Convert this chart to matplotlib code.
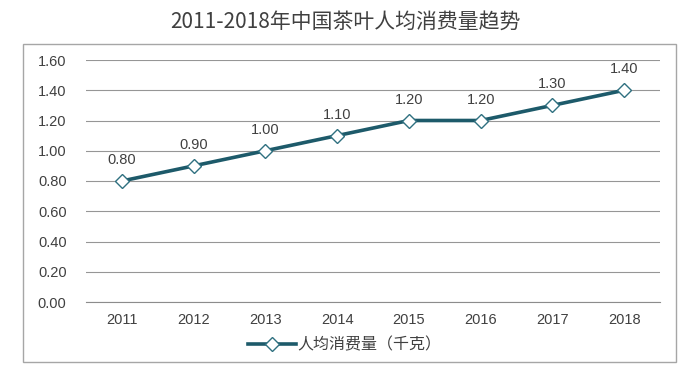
import matplotlib
matplotlib.use("Agg")
import matplotlib.pyplot as plt
from matplotlib.patches import Rectangle

plt.rcParams['font.family'] = ['Noto Sans CJK SC', 'DejaVu Sans']

years = ['2011', '2012', '2013', '2014', '2015', '2016', '2017', '2018']
values = [0.80, 0.90, 1.00, 1.10, 1.20, 1.20, 1.30, 1.40]
yticks = [0.0, 0.2, 0.4, 0.6, 0.8, 1.0, 1.2, 1.4, 1.6]
title = '2011-2018年中国茶叶人均消费量趋势'
series_name = '人均消费量（千克）'

W, H = 689, 371
fig = plt.figure(figsize=(W/100, H/100), dpi=100)
num_font = ['Liberation Sans', 'DejaVu Sans']

# outer border
fig.patches.append(Rectangle((23/W, 1-362/H), (676-23)/W, (362-44)/H,
                             transform=fig.transFigure, fill=False,
                             edgecolor='#a6a6a6', linewidth=1.0))

ax = fig.add_axes([86/W, 1-302/H, (660-86)/W, (302-60)/H])
x = list(range(len(years)))
line_color = '#1d5a6a'
ax.plot(x, values, color=line_color, linewidth=2.6, marker='D', markersize=7,
        markerfacecolor='white', markeredgecolor='#2f7080', markeredgewidth=1.0,
        label=series_name, zorder=3)
for xi, v in zip(x, values):
    ax.annotate(f'{v:.2f}', (xi, v), xytext=(0, 10), textcoords='offset points',
                ha='center', va='bottom', fontsize=10.5, color='#404040',
                family=num_font)

ax.set_xlim(-0.5, len(years) - 0.5)
ax.set_ylim(0, 1.6)
ax.set_yticks(yticks)
ax.set_yticklabels([f'{t:.2f}' for t in yticks], family=num_font)
ax.set_xticks(x)
ax.set_xticklabels(years, family=num_font)
ax.tick_params(axis='both', length=0, labelsize=10.5, labelcolor='#404040')
ax.tick_params(axis='y', pad=14)
ax.tick_params(axis='x', pad=8)
ax.grid(axis='y', color='#969696', linewidth=0.8)
ax.set_axisbelow(True)
for s in ['top', 'right', 'left']:
    ax.spines[s].set_visible(False)
ax.spines['bottom'].set_color('#8c8c8c')

fig.text(345/W, 1-22/H, title, ha='center', va='center', fontsize=15, color='#404040')

leg = fig.legend(loc='center', bbox_to_anchor=(345/W, 1-345/H), frameon=False,
                 prop={'size': 11.5}, handlelength=3.0, handletextpad=0.1,
                 labelcolor='#404040')

fig.savefig('out.png', dpi=100)
